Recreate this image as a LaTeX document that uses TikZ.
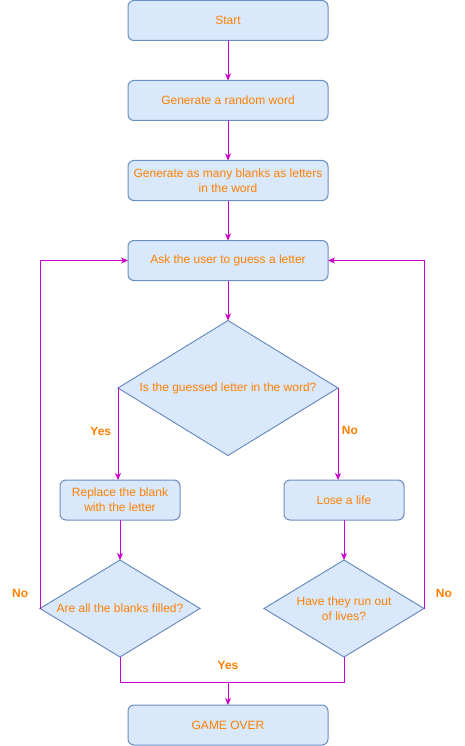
\documentclass[tikz,border=0pt]{standalone}
\usepackage{fontspec}
\setmainfont{Liberation Sans}
\usetikzlibrary{positioning,shapes.geometric,arrows.meta}
\definecolor{boxfill}{HTML}{DAE8FC}
\definecolor{boxline}{HTML}{6C8EBF}
\definecolor{textorange}{HTML}{FF8000}
\definecolor{flowline}{HTML}{CC00CC}

\begin{document}
\begin{tikzpicture}[x=1pt,y=1pt,->,>={Stealth[length=7pt,width=6pt,inset=2pt]},line width=1pt,draw=flowline,node distance=40pt,process node/.style={rectangle,rounded corners=6pt,draw=boxline,fill=boxfill,text=textorange,minimum width=200pt,minimum height=40pt,inner sep=0pt,outer sep=0pt,align=center,font=\fontsize{12}{15}\selectfont},decision node/.style={diamond,aspect=1.63,draw=boxline,fill=boxfill,text=textorange,inner sep=0pt,outer sep=0pt,align=center,font=\fontsize{12}{15}\selectfont},label node/.style={text=textorange,font=\fontsize{12}{15}\selectfont\bfseries}]

            \useasboundingbox (0,0) rectangle (465,-746);

            \node[process node] (1) at (228,-20.5) {Start};
            \node[process node] (2) [below = of 1] {Generate a random word};
            \node[process node] (3) [below = of 2] {Generate as many blanks as letters\\in the word};
            \node[process node] (4) [below = of 3] {Ask the user to guess a letter};
            \node[decision node, minimum width=220pt, minimum height=135pt] (5) [below = of 4] {Is the guessed letter in the word?};
            \node[process node, minimum width=120pt] (6) [below = 92pt of 5.west, xshift=2pt] {Replace the blank\\with the letter};
            \node[process node, minimum width=120pt] (7) [below = 92pt of 5.east, xshift=6pt] {Lose a life};
            \node[decision node, minimum width=160pt, minimum height=97pt] (8) [below = of 6] {Are all the blanks filled?};
            \node[decision node, minimum width=160pt, minimum height=97pt] (9) [below = of 7] {Have they run out\\of lives?};
            \coordinate[below = 25pt of 8.south] (10);
            \coordinate[below = 25pt of 9.south] (11);
            \coordinate (12) at (4 |- 10);
            \node[process node] (13) [below = 23pt of 12] {GAME OVER};
            \node[label node, above = 9pt of 12] (14) {Yes};

            \draw (1) to (2);
            \draw (2) to (3);
            \draw (3) to (4);
            \draw (4) to (5);
            \draw (5.west) to node[label node, left = 3pt, pos=0.47] {Yes} (5.west |- 6.north);
            \draw (5.east) to node[label node, right, pos=0.46] {No} (5.east |- 7.north);
            \draw (6) to (8);
            \draw (7) to (9);
            \draw[-] (8) -- (10) -- (11) -- (9);
            \draw (12) to (13);
            \draw (8.west) |- node[label node, left = 8pt, pos=0.021] {No} (4.west);
            \draw (9.east) |- node[label node, right = 8pt, pos=0.021] {No} (4.east);

        \end{tikzpicture}
\end{document}
